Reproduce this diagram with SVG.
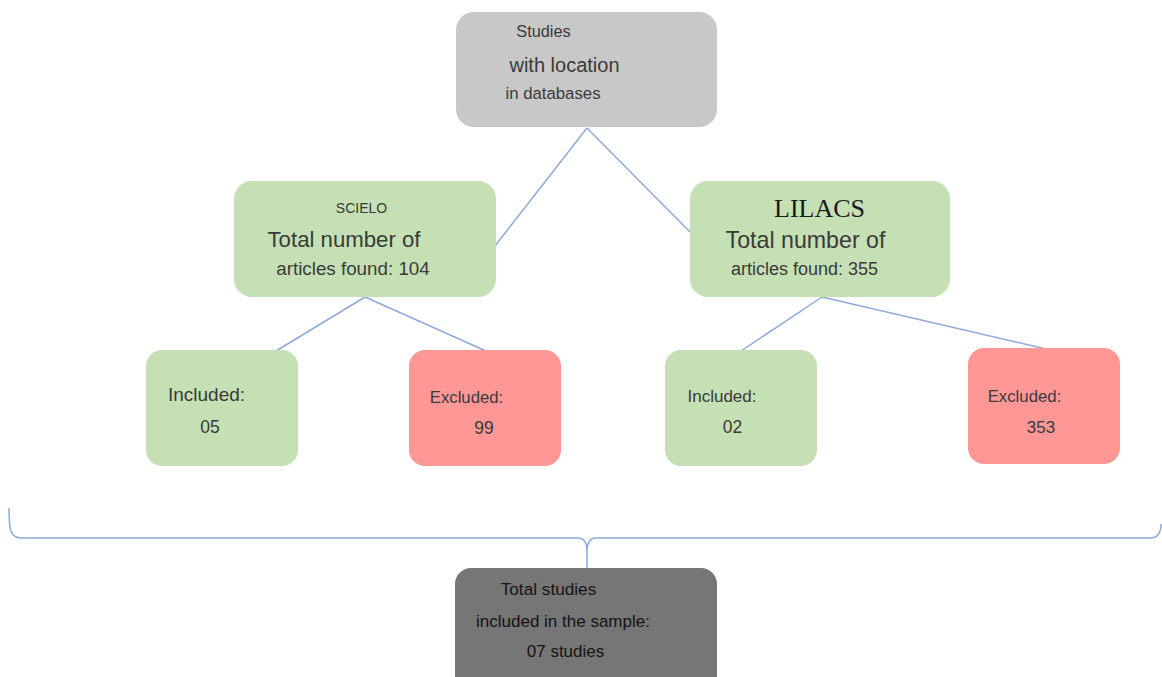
<svg xmlns="http://www.w3.org/2000/svg" width="1162" height="677" viewBox="0 0 1162 677">
<style>
.t{font-family:"Liberation Sans",Arial,sans-serif;fill:#3a3a3a;text-anchor:middle}
.k{font-family:"Liberation Sans",Arial,sans-serif;fill:#141414;text-anchor:middle}
.s{font-family:"Liberation Serif","Times New Roman",serif;fill:#1a1a1a;text-anchor:middle}
.grey{fill:#c8c8c8}
.green{fill:#c5e0b4}
.red{fill:#ff9797}
.dark{fill:#767676}
.conn{fill:none;stroke:#8eaadb;stroke-width:1.5}
</style>
<rect width="1162" height="677" fill="#ffffff"/>
<g id="connectors">
<path class="conn" d="M587 128 L495 246 M587 128 L690 232"/>
<path class="conn" d="M365 297 L276 351 M365 297 L486 351"/>
<path class="conn" d="M822 297 L741 351 M822 297 L1046 349"/>
<path class="conn" d="M9 508 C9 530 10 538 22 538 L578 538 Q587 538 587 552 L587 568 M587 552 Q587 538 596 538 L1150 538 Q1161 538 1161 524"/>
</g>
<g id="studies">
<rect class="grey" x="456" y="12" width="261" height="115" rx="18"/>
<text class="t" x="543.5" y="37" font-size="16.3">Studies</text>
<text class="t" x="564.5" y="72" font-size="20">with location</text>
<text class="t" x="553" y="99" font-size="16.8">in databases</text>
</g>
<g id="scielo">
<rect class="green" x="234" y="181" width="262" height="116" rx="18"/>
<text class="t" x="361.5" y="213" font-size="14">SCIELO</text>
<text class="t" x="344" y="247" font-size="22.2">Total number of</text>
<text class="t" x="353" y="275" font-size="18.8">articles found: 104</text>
</g>
<g id="lilacs">
<rect class="green" x="690" y="181" width="260" height="116" rx="18"/>
<text class="s" x="819.5" y="217" font-size="26">LILACS</text>
<text class="t" x="805.5" y="248" font-size="23.2">Total number of</text>
<text class="t" x="804.5" y="275" font-size="18">articles found: 355</text>
</g>
<g id="included-scielo">
<rect class="green" x="146" y="350" width="152" height="116" rx="16"/>
<text class="t" x="206.5" y="401" font-size="19">Included:</text>
<text class="t" x="210" y="433" font-size="17.5">05</text>
</g>
<g id="excluded-scielo">
<rect class="red" x="409" y="350" width="152" height="116" rx="16"/>
<text class="t" x="466.5" y="403" font-size="16.7">Excluded:</text>
<text class="t" x="484" y="434" font-size="17.5">99</text>
</g>
<g id="included-lilacs">
<rect class="green" x="665" y="350" width="152" height="116" rx="16"/>
<text class="t" x="722" y="402" font-size="17">Included:</text>
<text class="t" x="732.5" y="433" font-size="17.5">02</text>
</g>
<g id="excluded-lilacs">
<rect class="red" x="968" y="348" width="152" height="116" rx="16"/>
<text class="t" x="1024.5" y="402" font-size="16.8">Excluded:</text>
<text class="t" x="1041" y="433" font-size="17">353</text>
</g>
<g id="total">
<rect class="dark" x="455" y="568" width="262" height="125" rx="16"/>
<text class="k" x="548.5" y="595" font-size="17.2">Total studies</text>
<text class="k" x="563" y="627" font-size="17">included in the sample:</text>
<text class="k" x="565.5" y="657" font-size="17">07 studies</text>
</g>
</svg>
